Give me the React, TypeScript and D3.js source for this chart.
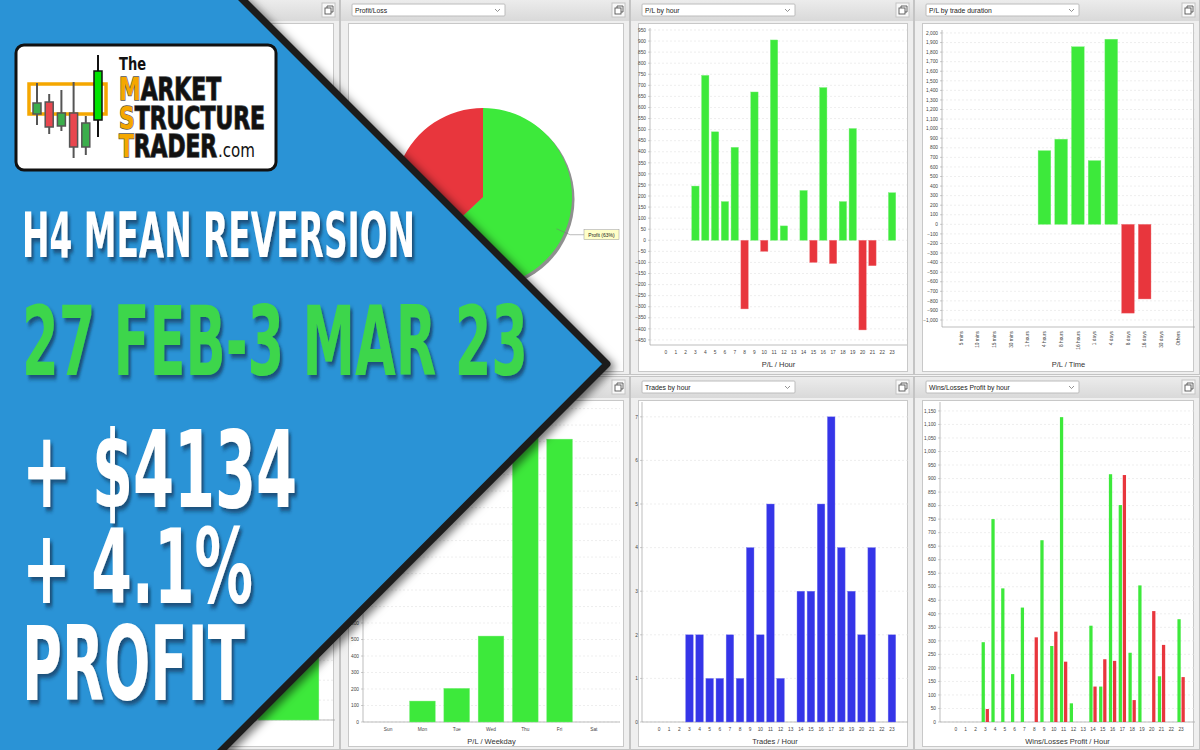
import React, { useLayoutEffect, useRef, useState } from 'react';
import * as d3 from 'd3';

// chart values
const hourLabels = ['0', '1', '2', '3', '4', '5', '6', '7', '8', '9', '10', '11', '12', '13', '14', '15', '16', '17', '18', '19', '20', '21', '22', '23'];
const plByHour = [0, 0, 0, 245, 745, 490, 175, 420, -310, 670, -50, 905, 65, 0, 225, -100, 690, -105, 175, 505, -405, -115, 0, 215];
const durationLabels = ['5 mins', '10 mins', '15 mins', '30 mins', '1 hours', '4 hours', '8 hours', '16 hours', '1 days', '4 days', '8 days', '16 days', '30 days', 'Others'];
const plByDuration = [0, 0, 0, 0, 0, 770, 890, 1856, 666, 1935, -928, -780, 0, 0];
const tradesByHour = [0, 0, 0, 2, 2, 1, 1, 2, 1, 4, 2, 5, 1, 0, 3, 3, 5, 7, 4, 3, 2, 4, 0, 2];
const winsByHour = [0, 0, 0, 295, 750, 494, 177, 423, 0, 672, 281, 1127, 69, 0, 356, 131, 916, 802, 256, 505, 0, 169, 0, 380];
const lossesByHour = [0, 0, 0, 48, 0, 0, 0, 0, 313, 0, 334, 223, 0, 0, 131, 232, 226, 913, 81, 0, 410, 285, 0, 166];
const weekdayLabels = ['Sun', 'Mon', 'Tue', 'Wed', 'Thu', 'Fri', 'Sat'];
const plByWeekday = [0, 127, 204, 521, 1850, 1715, 0];
const pieLabels = ['Profit', 'Loss'];
const pieShares = [63, 37];
const monthLabels = ['Feb', 'Mar'];
const plByMonth = [331, 3803];

// logo candles (open, close, high, low) in logo units
const logoCandles = [
  { o: 114, c: 103, h: 83, l: 125, fill: '#3cae4c' },
  { o: 102, c: 127, h: 94, l: 134, fill: '#e8474f' },
  { o: 126, c: 113, h: 90, l: 131, fill: '#3cae4c' },
  { o: 113, c: 147, h: 82, l: 158, fill: '#e8474f' },
  { o: 147, c: 123, h: 116, l: 155, fill: '#3cae4c' },
  { o: 120, c: 71, h: 55, l: 137, fill: '#00e400' },
];

const GREEN = '#3de93b';
const RED = '#e8363d';
const BLUE = '#3535e8';
const SANS = "'Liberation Sans', Arial, sans-serif";
const BIG = "'DejaVu Sans Condensed', 'DejaVu Sans', sans-serif";

// the blue banner: tip at (607,364); texts fully under it are not drawn
const underBanner = (x: number, y: number) => (y <= 364 ? x < 243 + y + 4 : x < 972 - y + 4);

type Plot = { left: number; right: number; top: number; bottom: number };

// text squeezed horizontally to a given width (measured, then scaled)
function FitText({ x, y, len, size, children, ...rest }: any) {
  const ref = useRef<SVGTextElement>(null);
  const [sx, setSx] = useState(0.6);
  useLayoutEffect(() => {
    if (ref.current) {
      const w = ref.current.getComputedTextLength();
      if (w > 0) setSx(len / w);
    }
  }, [len, size]);
  return (
    <text ref={ref} transform={`translate(${x},${y}) scale(${sx},1)`} fontSize={size} {...rest}>{children}</text>
  );
}

function Panel({ x, y, w, h, title }: { x: number; y: number; w: number; h: number; title: string }) {
  return (
    <g>
      <rect x={x + 0.5} y={y + 0.5} width={w - 1} height={h - 1} fill="#efefef" stroke="#c4c4c4" />
      <rect x={x + 1} y={y + 1} width={w - 2} height={21} fill="url(#hdr)" />
      <rect x={x + 12} y={y + 5} width={153} height={12} fill="#fff" stroke="#bcbcbc" rx={1} />
      {!underBanner(x + 60, y + 11) && <text x={x + 15} y={y + 13.5} fontSize={6.8} fill="#222" fontFamily={SANS}>{title}</text>}
      <path d={`M${x + 155},${y + 10} l2.5,2.5 l2.5,-2.5`} fill="none" stroke="#777" strokeWidth={0.8} />
      <rect x={x + w - 18} y={y + 4} width={13} height={14} fill="#f8f8f8" stroke="#c4c4c4" />
      <rect x={x + w - 15} y={y + 9} width={6} height={6} fill="#fff" stroke="#555" strokeWidth={0.9} />
      <path d={`M${x + w - 13},${y + 9} v-2 h6 v6 h-2`} fill="none" stroke="#555" strokeWidth={0.9} />
      <rect x={x + 8.5} y={y + 24.5} width={w - 15} height={h - 28} fill="#fff" stroke="#c8c8c8" />
    </g>
  );
}

function YAxis({ p, y, ticks, fmt }: { p: Plot; y: d3.ScaleLinear<number, number>; ticks: number[]; fmt: (v: number) => string }) {
  return (
    <g>
      {ticks.map(t => (
        <g key={t}>
          <line x1={p.left} x2={p.right} y1={y(t)} y2={y(t)} stroke="#e3e3e3" strokeWidth={0.6} strokeDasharray="2,2" />
          <line x1={p.left - 2} x2={p.left} y1={y(t)} y2={y(t)} stroke="#999" strokeWidth={0.5} />
          {!underBanner(p.left - 4, y(t)) &&
            <text x={p.left - 4} y={y(t) + 1.7} fontSize={4.8} textAnchor="end" fill="#444" fontFamily={SANS}>{fmt(t)}</text>}
        </g>
      ))}
      <line x1={p.left} x2={p.left} y1={p.top} y2={p.bottom} stroke="#a0a0a0" strokeWidth={0.7} />
      <line x1={p.left} x2={p.right} y1={p.bottom} y2={p.bottom} stroke="#a0a0a0" strokeWidth={0.7} />
    </g>
  );
}

function XLabels({ x, labels, yy }: { x: d3.ScaleBand<string>; labels: string[]; yy: number }) {
  return (
    <g>
      {labels.map(l => {
        const cx = (x(l) ?? 0) + x.bandwidth() / 2;
        return underBanner(cx + 5, yy) ? null : (
          <text key={l} x={cx} y={yy} fontSize={4.8} textAnchor="middle" fill="#444" fontFamily={SANS}>{l}</text>
        );
      })}
    </g>
  );
}

function AxisTitle({ p, yy, text }: { p: Plot; yy: number; text: string }) {
  return <text x={(p.left + p.right) / 2} y={yy} fontSize={7.5} textAnchor="middle" fill="#333" fontFamily={SANS}>{text}</text>;
}

function SignedBars({ x, y, labels, values }: { x: d3.ScaleBand<string>; y: d3.ScaleLinear<number, number>; labels: string[]; values: number[] }) {
  return (
    <g>
      {values.map((v, i) => v === 0 ? null : (
        <rect key={i} x={x(labels[i])} y={Math.min(y(v), y(0))} width={x.bandwidth()} height={Math.abs(y(v) - y(0))}
          fill={v > 0 ? GREEN : RED} stroke={v > 0 ? '#7bf07a' : '#ef7b80'} strokeWidth={0.4} />
      ))}
    </g>
  );
}

const fmtInt = d3.format('d');
const fmtComma = d3.format(',');

function PLByHour() {
  const p = { left: 650, right: 907, top: 28, bottom: 345 };
  const y = d3.scaleLinear().domain([-473, 959]).range([p.bottom, p.top]);
  const x = d3.scaleBand().domain(hourLabels).range([661, 897]).paddingInner(0.25).paddingOuter(0.125);
  return (
    <g>
      <Panel x={630} y={-1} w={284} h={376} title="P/L by hour" />
      <YAxis p={p} y={y} ticks={d3.range(-450, 951, 50)} fmt={fmtInt} />
      <SignedBars x={x} y={y} labels={hourLabels} values={plByHour} />
      <XLabels x={x} labels={hourLabels} yy={354} />
      <AxisTitle p={p} yy={367} text="P/L / Hour" />
    </g>
  );
}

function PLByDuration() {
  const p = { left: 942, right: 1195, top: 30, bottom: 327 };
  const y = d3.scaleLinear().domain([-1073, 2031]).range([p.bottom, p.top]);
  const x = d3.scaleBand().domain(durationLabels).range([952.6, 1186.4]).paddingInner(0.24).paddingOuter(0.12);
  return (
    <g>
      <Panel x={914} y={-1} w={286} h={376} title="P/L by trade duration" />
      <YAxis p={p} y={y} ticks={d3.range(-1000, 2001, 100)} fmt={fmtComma} />
      <SignedBars x={x} y={y} labels={durationLabels} values={plByDuration} />
      {durationLabels.map(l => (
        <text key={l} transform={`translate(${(x(l) ?? 0) + x.bandwidth() / 2 + 1.7},331) rotate(-90)`} fontSize={4.8}
          textAnchor="end" fill="#444" fontFamily={SANS}>{l}</text>
      ))}
      <AxisTitle p={p} yy={367} text="P/L / Time" />
    </g>
  );
}

function TradesByHour() {
  const p = { left: 642, right: 908, top: 402, bottom: 722 };
  const y = d3.scaleLinear().domain([0, 7.34]).range([p.bottom, p.top]);
  const x = d3.scaleBand().domain(hourLabels).range([654, 897]).paddingInner(0.25).paddingOuter(0.125);
  return (
    <g>
      <Panel x={630} y={376} w={284} h={374} title="Trades by hour" />
      <YAxis p={p} y={y} ticks={d3.range(0, 8, 1)} fmt={fmtInt} />
      {tradesByHour.map((v, i) => v === 0 ? null : (
        <rect key={i} x={x(hourLabels[i])} y={y(v)} width={x.bandwidth()} height={y(0) - y(v)} fill={BLUE} stroke="#7a7af0" strokeWidth={0.4} />
      ))}
      <XLabels x={x} labels={hourLabels} yy={731} />
      <AxisTitle p={p} yy={744} text="Trades / Hour" />
    </g>
  );
}

function WinsLossesByHour() {
  const p = { left: 940, right: 1195, top: 402, bottom: 722 };
  const y = d3.scaleLinear().domain([0, 1183]).range([p.bottom, p.top]);
  const x = d3.scaleBand().domain(hourLabels).range([951, 1186]).paddingInner(0.25).paddingOuter(0.125);
  const sub = d3.scaleBand().domain(['win', 'loss']).range([0, x.bandwidth()]).paddingInner(0.2);
  return (
    <g>
      <Panel x={914} y={376} w={286} h={374} title="Wins/Losses Profit by hour" />
      <YAxis p={p} y={y} ticks={d3.range(0, 1151, 50)} fmt={fmtComma} />
      {hourLabels.map((h, i) => (
        <g key={h}>
          {winsByHour[i] > 0 && <rect x={(x(h) ?? 0) + (sub('win') ?? 0)} y={y(winsByHour[i])} width={sub.bandwidth()} height={y(0) - y(winsByHour[i])} fill={GREEN} />}
          {lossesByHour[i] > 0 && <rect x={(x(h) ?? 0) + (sub('loss') ?? 0)} y={y(lossesByHour[i])} width={sub.bandwidth()} height={y(0) - y(lossesByHour[i])} fill={RED} />}
        </g>
      ))}
      <XLabels x={x} labels={hourLabels} yy={731} />
      <AxisTitle p={p} yy={744} text="Wins/Losses Profit / Hour" />
    </g>
  );
}

function PLByWeekday() {
  const p = { left: 363, right: 620, top: 402, bottom: 722 };
  const y = d3.scaleLinear().domain([0, 1940]).range([p.bottom, p.top]);
  const x = d3.scaleBand().domain(weekdayLabels).range([371, 611]).paddingInner(0.25).paddingOuter(0.125);
  return (
    <g>
      <Panel x={340} y={376} w={290} h={374} title="P/L by weekday" />
      <YAxis p={p} y={y} ticks={d3.range(0, 1901, 100)} fmt={fmtComma} />
      <SignedBars x={x} y={y} labels={weekdayLabels} values={plByWeekday} />
      <XLabels x={x} labels={weekdayLabels} yy={731} />
      <AxisTitle p={p} yy={744} text="P/L / Weekday" />
    </g>
  );
}

// mostly hidden under the blue banner: only the foot of the tall bar shows
function PLByMonth() {
  const p = { left: 95, right: 335, top: 402, bottom: 720 };
  const y = d3.scaleLinear().domain([0, 4000]).range([p.bottom, p.top]);
  const x = d3.scaleBand().domain(monthLabels).range([167, 329]).paddingInner(0.25).paddingOuter(0.125);
  return (
    <g>
      <Panel x={50} y={376} w={290} h={374} title="P/L by month" />
      <YAxis p={p} y={y} ticks={d3.range(0, 4001, 250)} fmt={fmtComma} />
      <SignedBars x={x} y={y} labels={monthLabels} values={plByMonth} />
    </g>
  );
}

function ProfitLossPie() {
  const cx = 483, cy = 197, r = 89;
  const pie = d3.pie<number>().sort(null).value(d => d);
  const arcs = pie(pieShares);
  const arc = d3.arc<d3.PieArcDatum<number>>().innerRadius(0).outerRadius(r);
  const colors = [GREEN, RED];
  return (
    <g>
      <Panel x={340} y={-1} w={290} h={376} title="Profit/Loss" />
      <circle cx={cx + 2.5} cy={cy + 2.5} r={r} fill="#8f8f8f" />
      <g transform={`translate(${cx},${cy})`}>
        {arcs.map((a, i) => <path key={i} d={arc(a) ?? ''} fill={colors[i]} />)}
      </g>
      {arcs.map((a, i) => {
        const mid = (a.startAngle + a.endAngle) / 2;
        const dx = Math.sin(mid), dy = -Math.cos(mid);
        const side = dx >= 0 ? 1 : -1;
        const ax = cx + dx * (r - 9), ay = cy + dy * (r - 9);
        const bx = cx + dx * (r + 6), by = cy + dy * (r + 6);
        const lx = cx + side * 101;
        const label = `${pieLabels[i]} (${pieShares[i]}%)`;
        const bw = 35;
        if (underBanner(side > 0 ? lx + bw : lx, by)) return null;
        return (
          <g key={i}>
            <polyline points={`${ax},${ay} ${bx},${by} ${lx},${by}`} fill="none" stroke="#777" strokeWidth={0.5} />
            <rect x={side > 0 ? lx : lx - bw} y={by - 5} width={bw} height={10} fill="#ffffc8" stroke="#999" strokeWidth={0.5} />
            <text x={side > 0 ? lx + bw / 2 : lx - bw / 2} y={by + 1.8} fontSize={5} textAnchor="middle" fill="#222" fontFamily={SANS}>{label}</text>
          </g>
        );
      })}
    </g>
  );
}

function Logo() {
  return (
    <g>
      <rect x={16} y={45} width={260} height={125} rx={8} fill="#fff" stroke="#111" strokeWidth={3} />
      <rect x={29} y={84} width={77} height={30} fill="none" stroke="#f5a700" strokeWidth={3.5} />
      {logoCandles.map((c, i) => {
        const cxp = 37 + i * 12.2;
        return (
          <g key={i}>
            <line x1={cxp} x2={cxp} y1={c.h} y2={c.l} stroke={i === 5 ? '#111' : '#555'} strokeWidth={2} />
            <rect x={cxp - 4} y={Math.min(c.o, c.c)} width={8} height={Math.abs(c.o - c.c)} fill={c.fill} stroke={i === 5 ? '#111' : '#555'} strokeWidth={1.5} />
          </g>
        );
      })}
      <FitText x={119} y={70} len={27} size={18} fontWeight="bold" fill="#111" fontFamily={BIG}>The</FitText>
      {[['M', 'ARKET', 100, 102], ['S', 'TRUCTURE', 129, 146], ['T', 'RADER', 157, 98]].map(([a, b, yy, w]) => (
        <FitText key={a as string} x={119} y={yy as number} len={w as number} size={32} fontWeight="bold" fontFamily={BIG}
          stroke="#555" strokeWidth={1.4} paintOrder="stroke">
          <tspan fill="#f5a700">{a}</tspan><tspan fill="#111">{b}</tspan>
        </FitText>
      ))}
      <FitText x={218} y={157} len={37} size={20} fill="#111" fontFamily={BIG}>.com</FitText>
    </g>
  );
}

export default function App() {
  const big = (t: string, x: number, y: number, size: number, len: number, fill: string) => (
    <FitText x={x} y={y} len={len} size={size} fontWeight="bold" fill={fill} fontFamily={BIG} filter="url(#txtShadow)">{t}</FitText>
  );
  return (
    <svg width={1200} height={750} style={{ position: 'absolute', left: 0, top: 0 }}>
      <defs>
        <linearGradient id="hdr" x1="0" x2="0" y1="0" y2="1">
          <stop offset="0" stopColor="#ececec" />
          <stop offset="1" stopColor="#d9d9d9" />
        </linearGradient>
        <filter id="triShadow" x="-20%" y="-20%" width="140%" height="140%">
          <feDropShadow dx={4} dy={3} stdDeviation={4} floodColor="#000" floodOpacity={0.55} />
        </filter>
        <filter id="txtShadow" x="-10%" y="-20%" width="120%" height="150%">
          <feDropShadow dx={4} dy={4} stdDeviation={2} floodColor="#0b2a4a" floodOpacity={0.65} />
        </filter>
      </defs>
      <rect width={1200} height={750} fill="#f4f4f4" />
      <Panel x={50} y={-1} w={290} h={376} title="Balance" />
      <PLByMonth />
      <ProfitLossPie />
      <PLByWeekday />
      <PLByHour />
      <TradesByHour />
      <PLByDuration />
      <WinsLossesByHour />

      <g filter="url(#triShadow)">
        <polygon points="0,0 243,0 607,364 222,750 0,750" fill="#2b93d6" />
        <polyline points="239,-4 607,364 218,754" fill="none" stroke="#1d1d1d" strokeWidth={7} strokeLinejoin="round" />
      </g>

      <Logo />
      {big('H4 MEAN REVERSION', 22, 257, 62, 393, '#ffffff')}
      {big('27 FEB-3 MAR 23', 22, 375, 96, 506, '#3dd64b')}
      {big('+ $4134', 22, 507, 106, 275, '#ffffff')}
      {big('+ 4.1%', 22, 603, 103, 231, '#ffffff')}
      {big('PROFIT', 22, 700, 103, 223, '#ffffff')}
    </svg>
  );
}
